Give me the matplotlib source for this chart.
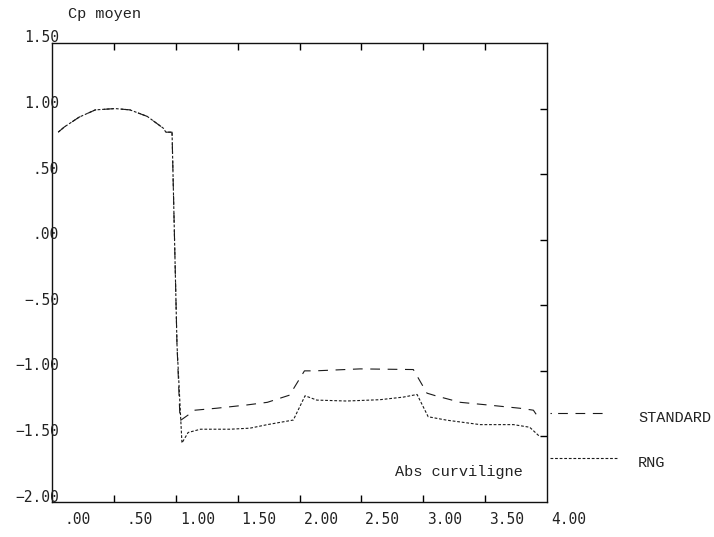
import matplotlib
matplotlib.use("Agg")
import matplotlib.pyplot as plt
from matplotlib import transforms
from matplotlib.lines import Line2D

# ---- data ----
std_x = [0.05, 0.10, 0.22, 0.35, 0.51, 0.63, 0.77, 0.90, 0.92, 0.97, 1.01, 1.035,
         1.155, 1.33, 1.575, 1.74, 1.92, 2.04, 2.125, 2.49, 2.92, 3.03, 3.10,
         3.30, 3.52, 3.78, 3.89, 3.94]
std_y = [0.82, 0.86, 0.935, 0.99, 1.00, 0.99, 0.94, 0.85, 0.82, 0.82, -0.80, -1.38,
         -1.30, -1.285, -1.26, -1.24, -1.185, -1.00, -1.00, -0.985, -0.99, -1.17, -1.19,
         -1.24, -1.26, -1.285, -1.30, -1.37]

rng_x = [0.05, 0.10, 0.22, 0.35, 0.51, 0.63, 0.77, 0.90, 0.92, 0.97, 1.01, 1.05,
         1.10, 1.20, 1.44, 1.60, 1.74, 1.95, 2.045, 2.14, 2.38, 2.65, 2.84, 2.95,
         3.04, 3.19, 3.46, 3.73, 3.86, 3.94]
rng_y = [0.82, 0.86, 0.935, 0.99, 1.00, 0.99, 0.94, 0.85, 0.82, 0.82, -0.80, -1.55,
         -1.47, -1.445, -1.445, -1.437, -1.41, -1.375, -1.19, -1.223, -1.23, -1.22, -1.20, -1.18,
         -1.35, -1.376, -1.41, -1.41, -1.43, -1.50]

x_ticks = [0.5, 1.0, 1.5, 2.0, 2.5, 3.0, 3.5]
x_label_vals = [0.0, 0.5, 1.0, 1.5, 2.0, 2.5, 3.0, 3.5, 4.0]
x_label_txt = [".00", ".50", "1.00", "1.50", "2.00", "2.50", "3.00", "3.50", "4.00"]
y_ticks = [1.0, 0.5, 0.0, -0.5, -1.0, -1.5]
y_label_vals = [1.5, 1.0, 0.5, 0.0, -0.5, -1.0, -1.5, -2.0]
y_label_txt = ["1.50", "1.00", ".50", ".00", "\u2212.50", "\u22121.00", "\u22121.50", "\u22122.00"]
series_names = ["STANDARD", "RNG"]

W, H = 714, 537
plt.rcParams['lines.scale_dashes'] = False
fig = plt.figure(figsize=(W / 100, H / 100), dpi=100)
ax = fig.add_axes([52 / W, 1 - 502 / H, (547 - 52) / W, (502 - 43) / H])
ax.set_xlim(0, 4)
ax.set_ylim(-2.0, 1.5)

col = "#1a1a1a"
std_dash = (0, (7.0, 5.5))
rng_dash = (0, (2.0, 1.3))
ax.plot(std_x, std_y, color=col, lw=0.8, linestyle=std_dash)
ax.plot(rng_x, rng_y, color=col, lw=0.8, linestyle=rng_dash)

for s in ax.spines.values():
    s.set_linewidth(1.0)
    s.set_color("#111111")

ax.set_xticks(x_ticks)
ax.set_xticklabels([])
ax.tick_params(axis='x', direction='in', top=True, bottom=True, length=5, width=1.0)
ax.set_yticks(y_ticks)
ax.set_yticklabels([])
ax.tick_params(axis='y', direction='in', left=False, right=True, length=5, width=1.0)

tick_font = dict(family="DejaVu Sans Mono", size=10.5, color="#222222")
txt_font = dict(family="Liberation Mono", size=11, color="#222222")

# y labels
ytr = transforms.blended_transform_factory(ax.transAxes, ax.transData)
ytr = transforms.offset_copy(ytr, fig=fig, x=7, y=5, units='dots')
for v, t in zip(y_label_vals, y_label_txt):
    ax.text(0, v, t, transform=ytr, ha='right', va='center', clip_on=False, **tick_font)

# x labels
xtr = transforms.blended_transform_factory(ax.transData, ax.transAxes)
xtr = transforms.offset_copy(xtr, fig=fig, x=39, y=-18, units='dots')
for v, t in zip(x_label_vals, x_label_txt):
    ax.text(v, 0, t, transform=xtr, ha='right', va='center', clip_on=False, **tick_font)

fig.text(68 / W, 1 - 14 / H, "Cp moyen", ha='left', va='center', **txt_font)
fig.text(395 / W, 1 - 472 / H, "Abs curviligne", ha='left', va='center', **txt_font)

# legend outside, right
fig.add_artist(Line2D([550 / W, 610 / W], [1 - 413 / H, 1 - 413 / H], transform=fig.transFigure,
                      color=col, lw=0.8, linestyle=(0, (1.0, 4.5, 7.0, 5.5, 7.0, 5.5, 7.0, 10))))
fig.add_artist(Line2D([550 / W, 617 / W], [1 - 458 / H, 1 - 458 / H], transform=fig.transFigure,
                      color=col, lw=0.8, linestyle=rng_dash))
fig.text(638 / W, 1 - 418 / H, series_names[0], ha='left', va='center', **txt_font)
fig.text(638 / W, 1 - 463 / H, series_names[1], ha='left', va='center', **txt_font)

fig.savefig("out.png", dpi=100)
